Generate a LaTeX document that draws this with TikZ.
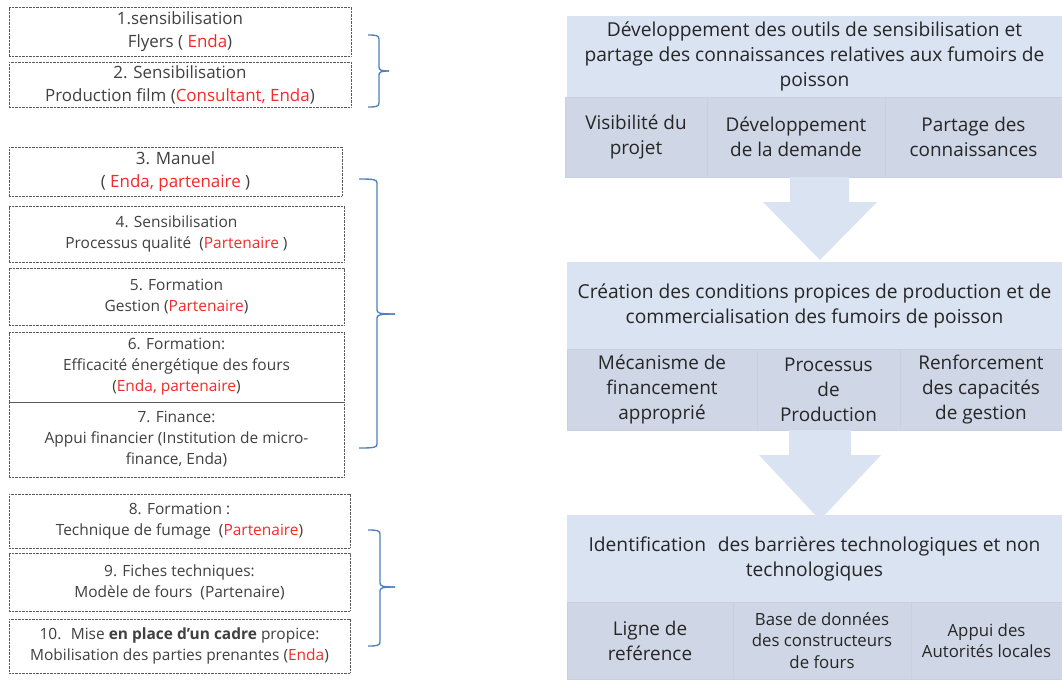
\documentclass[tikz,border=0pt]{standalone}
\usepackage{fontspec}
\setmainfont{Open Sans}
\definecolor{paneltop}{HTML}{DAE3F1}
\definecolor{panelsub}{HTML}{CFD7E6}
\definecolor{ltxt}{HTML}{404040}
\definecolor{rtxt}{HTML}{262626}
\definecolor{redname}{HTML}{F42A2A}
\definecolor{braceblue}{HTML}{4F81BD}
\newcommand{\rn}[1]{\textcolor{redname}{#1}}
\newcommand{\mybrace}[6]{%
  \draw[bracestyle] (#1,#4) .. controls (#2-3,#4) and (#2,#4+0.5) .. (#2,#4+4) -- (#2,#5-4) .. controls (#2,#5-1) and (#2+2,#5) .. (#3,#5);
  \draw[bracestyle] (#3,#5) .. controls (#2+2,#5) and (#2,#5+1) .. (#2,#5+4) -- (#2,#6-4) .. controls (#2,#6-0.5) and (#2-3,#6) .. (#1,#6);
}
\begin{document}
\begin{tikzpicture}[x=0.75pt,y=-0.75pt,
  wh/.style 2 args={minimum width=#1*0.75pt, minimum height=#2*0.75pt},
  lbox/.style={draw=black!65, dash pattern=on 0.6pt off 0.45pt, line width=0.75pt, align=center, inner sep=0pt, text=ltxt},
  big/.style={font=\fontsize{12.7}{17.25}\selectfont},
  small/.style={font=\fontsize{11.6}{15.75}\selectfont},
  toppanel/.style={fill=paneltop, inner sep=0pt, align=center, text=rtxt, font=\fontsize{14.4}{18.75}\selectfont},
  subpanel/.style={fill=panelsub, draw=panelsub!97!black, line width=0.3pt, inner sep=0pt, align=center, text=rtxt, font=\fontsize{14.2}{18.75}\selectfont},
  subsmall/.style={font=\fontsize{12.6}{16}\selectfont},
  bracestyle/.style={draw=braceblue, line width=1pt},
  blockarrow/.style={fill=paneltop}]
\useasboundingbox (0,0) rectangle (1062,679);
\fill[white] (0,0) rectangle (1062,679);

% left boxes
\node[lbox, big, wh={342}{49}] (b1) at (180,31.5) {1.sensibilisation\\Flyers ( \rn{Enda})};
\node[lbox, big, wh={342}{45}] (b2) at (180,84.5) {2. Sensibilisation\\Production film (\rn{Consultant, Enda})};
\node[lbox, big, wh={333}{49}] (b3) at (175.5,171.5) {3. Manuel\\( \rn{Enda, partenaire} )};
\node[lbox, small, wh={335}{56}] (b4) at (176.5,234) {4. Sensibilisation\\Processus qualité~ (\rn{Partenaire} )};
\node[lbox, small, wh={335}{57}] (b5) at (176.5,296.5) {5. Formation\\Gestion (\rn{Partenaire})};
\node[lbox, small, wh={335}{70}] (b6) at (176.5,367) {6. Formation:\\Efficacité énergétique des fours\\(\rn{Enda, partenaire})};
\node[lbox, small, wh={335}{75}] (b7) at (176.5,439.5) {7. Finance:\\Appui financier (Institution de micro-\\finance, Enda)};
\node[lbox, small, wh={341}{54}] (b8) at (179.5,521) {8. Formation :\\Technique de fumage~ (\rn{Partenaire})};
\node[lbox, small, wh={341}{58}] (b9) at (179.5,582) {9. Fiches techniques:\\Modèle de fours~ (Partenaire)};
\node[lbox, small, wh={341}{54}] (b10) at (179.5,646) {10.~ Mise \textbf{en place d’un cadre} propice:\\Mobilisation des parties prenantes (\rn{Enda})};

% braces
\mybrace{368}{379}{389}{35}{71}{107}
\mybrace{359}{377}{395}{179}{314}{448}
\mybrace{368}{380}{395}{530}{587}{646}

% panel 1
\node[toppanel, wh={495}{81}] (t1) at (814.5,56.5) {Développement des outils de sensibilisation et\\partage des connaissances relatives aux fumoirs de\\poisson};
\node[subpanel, wh={142}{80}] (s11) at (636,137) {Visibilité du\\projet};
\node[subpanel, wh={178}{80}] (s12) at (796,137) {Développement\\de la demande};
\node[subpanel, wh={177}{80}] (s13) at (973.5,137) {Partage des\\connaissances};

% panel 2
\node[toppanel, wh={495}{87}] (t2) at (814.5,305.5) {Création des conditions propices de production et de\\commercialisation des fumoirs de poisson};
\node[subpanel, wh={190}{81}] (s21) at (662,389.5) {Mécanisme de\\financement\\approprié};
\node[subpanel, wh={143}{81}] (s22) at (828.5,389.5) {Processus\\de\\Production};
\node[subpanel, wh={162}{81}] (s23) at (981,389.5) {Renforcement\\des capacités\\de gestion};

% panel 3
\node[toppanel, wh={495}{87}] (t3) at (814.5,558.5) {Identification\hspace{0.35em} des barrières technologiques et non\\technologiques};
\node[subpanel, wh={166}{77}] (s31) at (650,640.5) {Ligne de\\reférence};
\node[subpanel, subsmall, wh={178}{77}] (s32) at (822,640.5) {Base de données\\des constructeurs\\de fours};
\node[subpanel, subsmall, wh={151}{77}] (s33) at (986.5,640.5) {Appui des\\Autorités locales};

% block arrows
\fill[blockarrow] (790,177) -- (849,177) -- (849,202) -- (877,202) -- (820,260) -- (763,202) -- (790,202) -- cycle;
\fill[blockarrow] (789,430) -- (851,430) -- (851,455) -- (881,455) -- (820,520) -- (759,455) -- (789,455) -- cycle;
\end{tikzpicture}
\end{document}
